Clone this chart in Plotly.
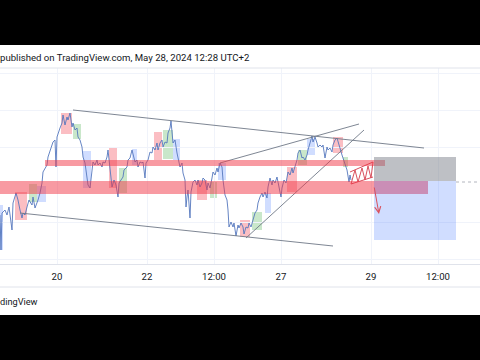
import plotly.graph_objects as go

# ---- data (x = bar time index, y = price units) ----
bar_x = [0,1,2,5,7,9,12,13,16,18,20,22,23,25,27,29,32,33,35,37,38,40,42,43,45,47,48,50,52,53,55,56,57,58,60,62,63,65,67,68,70,72,73,75,77,78,80,82,83,85,87,
         88,90,92,93,95,97,98,100,102,103,105,107,108,109,111,112,114,116,118,119,121,123,124,127,128,130,132,133,135,137,138,140,142,143,145,146,148,150,152,153,155,157,158,160,162,163,165,167,168,170,171,173,175,177,178,180,182,183,185,186,187,188,190,191,192,193,195,197,198,200,202,203,205,207,208,210,212,213,215,217,218,220,222,223,225,227,228,229,231,233,234,236,238,239,241,243,244,246,248,249,251,253,255,257,258,260,262,263,265,267,268,270,272,273,275,277,278,280,281,282,284,286,287,288,290,292,293,295,297,298,300,302,303,305,307,308,310,312,313,315,317,318,320,322,323,325,327,328,330,332,333,335,337,338,340,342,343,345,347,349,350,351]
bar_price = [49,14,51,54,49,57,34,61,71,64,54,46,51,49,57,64,59,67,56,61,64,71,81,92,96,99,107,114,121,122,124,97,127,131,136,141,149,139,147,144,151,137,141,134,136,127,124,117,107,101,87,
             79,76,97,102,99,104,99,101,97,102,101,107,114,104,87,77,84,79,67,81,84,87,94,97,104,106,114,109,102,104,97,102,101,102,86,101,104,112,111,117,114,121,114,121,124,117,122,121,131,136,143,121,124,111,106,97,101,91,84,57,67,74,46,72,77,82,84,79,84,77,81,86,84,74,81,76,86,92,89,96,92,101,97,84,69,64,54,37,42,37,41,28,39,36,41,37,30,37,36,41,37,44,51,54,61,67,71,67,72,66,77,86,79,84,81,87,82,72,67,76,84,81,87,92,89,96,91,97,104,111,114,106,107,104,109,114,122,128,122,127,121,117,119,117,119,106,117,114,116,112,119,124,126,122,116,109,106,101,94,82,89,84]

tick_vals = [57, 147, 214, 281, 371, 438]
tick_text = ["20", "22", "12:00", "27", "29", "12:00"]

# highlight boxes: x0, x1, y0, y1, kind
box_x0 = [61,73,83,15,29,37,0,109,119,132,154,163,173,197,210,218,240,252,265,287,298,307,333,343]
box_x1 = [72,81,91,27,37,46,3,117,127,137,162,173,180,207,217,226,250,262,271,297,307,315,343,348]
box_y0 = [130,125,76,44,62,62,14,76,71,99,104,105,104,64,66,84,27,34,51,72,99,109,111,97]
box_y1 = [151,140,113,72,80,78,59,116,96,115,132,134,125,84,82,101,44,52,71,97,114,125,127,107]
box_kind = ["r","g","b","r","g","b","b","r","g","b","r","g","b","r","g","b","r","g","b","r","g","b","r","g"]

# horizontal zones
zone_x0 = [45, 0]
zone_x1 = [385, 428]
zone_y0 = [98, 70]
zone_y1 = [104, 83]

# position tool (short): entry, stop, target
pos_x0, pos_x1 = 374, 456
pos_entry, pos_stop, pos_target = 83, 107, 24
last_price = 82

# trend lines
trend_lines = [
    ([73, 424], [154, 116]),
    ([20, 333], [51, 18]),
    ([220, 359], [101, 140]),
    ([246, 364], [26, 134]),
]
zig_x = [350, 373, None, 351, 373, None, 351, 355, 358, 362, 365, 368, 371, 373]
zig_y = [92, 102, None, 80, 87, None, 80, 94, 82, 96, 84, 98, 86, 102]
arrow_from = (374, 78)
arrow_to = (379, 50)

title_text = "published on TradingView.com, May 28, 2024 12:28 UTC+2"
footer_text = "dingView"

# ---- figure ----
TOP, BOTTOM, H = 68, 264, 196
def py(p):
    return (BOTTOM - p) / H

box_colors = {"r": "rgba(242,54,69,0.32)", "g": "rgba(76,175,80,0.30)", "b": "rgba(41,98,255,0.22)"}

shapes = []
shapes.append(dict(type="line", xref="x", yref="y", x0=pos_x1, x1=480, y0=last_price, y1=last_price,
                   line=dict(color="#b2b5be", width=1, dash="dot"), layer="below"))
for x0, x1, y0, y1, k in zip(box_x0, box_x1, box_y0, box_y1, box_kind):
    shapes.append(dict(type="rect", xref="x", yref="y", x0=x0, x1=x1, y0=y0, y1=y1,
                       fillcolor=box_colors[k], line_width=0, layer="below"))
for x0, x1, y0, y1 in zip(zone_x0, zone_x1, zone_y0, zone_y1):
    shapes.append(dict(type="rect", xref="x", yref="y", x0=x0, x1=x1, y0=y0, y1=y1,
                       fillcolor="rgba(242,54,69,0.5)", line_width=0, layer="above"))
shapes.append(dict(type="rect", xref="x", yref="y", x0=pos_x0, x1=pos_x1, y0=pos_entry, y1=pos_stop,
                   fillcolor="rgba(120,123,134,0.48)", line_width=0, layer="above"))
shapes.append(dict(type="rect", xref="x", yref="y", x0=pos_x0, x1=pos_x1, y0=pos_target, y1=pos_entry,
                   fillcolor="rgba(41,98,255,0.22)", line_width=0, layer="above"))
# separators
for yy in [py(68), py(287)]:
    shapes.append(dict(type="line", xref="paper", yref="paper", x0=0, x1=1, y0=yy, y1=yy,
                       line=dict(color="#e0e3eb", width=1)))
# letterbox bars
shapes.append(dict(type="rect", xref="paper", yref="paper", x0=-0.1, x1=1.1, y0=py(45), y1=py(-20),
                   fillcolor="black", line_width=0))
shapes.append(dict(type="rect", xref="paper", yref="paper", x0=-0.1, x1=1.1, y0=py(380), y1=py(315),
                   fillcolor="black", line_width=0))

fig = go.Figure()
fig.add_trace(go.Scatter(x=bar_x, y=bar_price, mode="lines",
                         line=dict(color="#5577bd", width=0.9), hoverinfo="skip"))
for lx, ly in trend_lines:
    fig.add_trace(go.Scatter(x=lx, y=ly, mode="lines", line=dict(color="#6f7887", width=0.9), hoverinfo="skip"))
fig.add_trace(go.Scatter(x=zig_x, y=zig_y, mode="lines", line=dict(color="#d9505d", width=1), hoverinfo="skip"))

annotations = [
    dict(x=arrow_to[0], y=arrow_to[1], ax=arrow_from[0], ay=arrow_from[1], xref="x", yref="y",
         axref="x", ayref="y", showarrow=True, arrowhead=5, arrowsize=1.2, arrowwidth=1,
         arrowcolor="#d9505d", text=""),
    dict(x=0, y=py(57), xref="paper", yref="paper", xanchor="left", yanchor="middle", xshift=-2,
         text=title_text, showarrow=False, font=dict(family="Roboto", size=9.6, color="#131722")),
    dict(x=0, y=py(301), xref="paper", yref="paper", xanchor="left", yanchor="middle", xshift=-2,
         text=footer_text, showarrow=False, font=dict(family="Roboto", size=9.2, color="#131722")),
]

fig.update_layout(
    width=480, height=360, margin=dict(l=0, r=0, t=TOP, b=360 - BOTTOM),
    paper_bgcolor="white", plot_bgcolor="white", showlegend=False,
    shapes=shapes, annotations=annotations,
    xaxis=dict(range=[0, 480], tickvals=tick_vals, ticktext=tick_text, showgrid=True,
               gridcolor="#f0f3fa", zeroline=False, showline=True, linecolor="#e0e3eb",
               ticks="", ticklabelstandoff=3,
               tickfont=dict(family="Roboto", size=9.6, color="#131722"), fixedrange=True),
    yaxis=dict(range=[0, 196], tickvals=[5, 42, 117, 154, 191], showticklabels=False,
               showgrid=True, gridcolor="#f0f3fa", zeroline=False, fixedrange=True),
)

fig.write_html("out.html")
